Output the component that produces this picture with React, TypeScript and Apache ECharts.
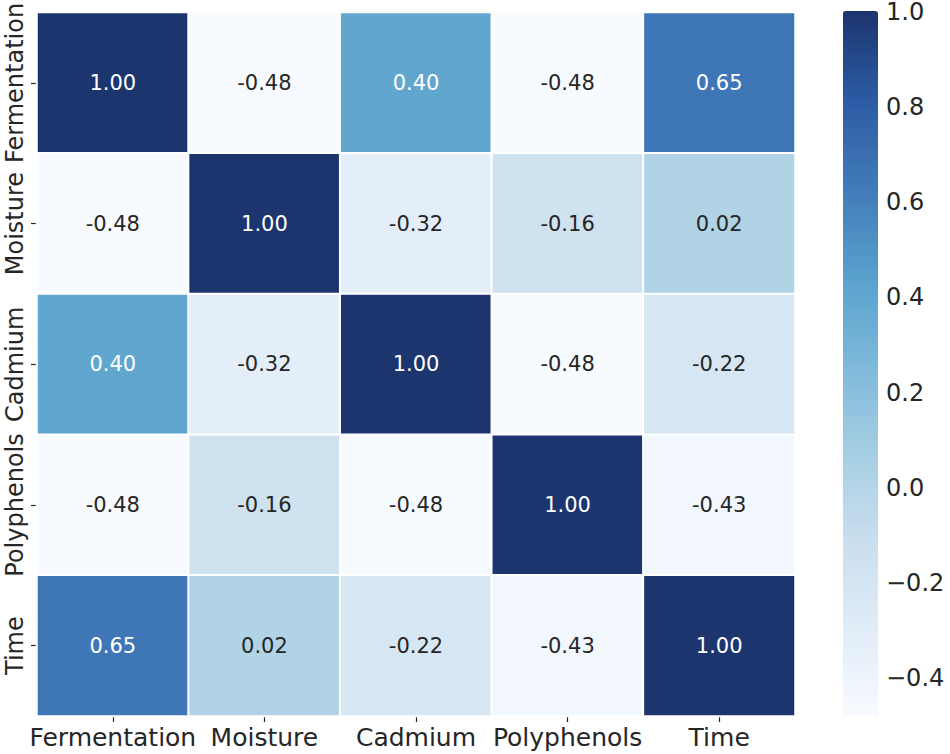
import React, { useEffect, useRef } from "react";
import * as echarts from "echarts";

const categories = ["Fermentation", "Moisture", "Cadmium", "Polyphenols", "Time"];
const rowFermentation = [1.0, -0.48, 0.4, -0.48, 0.65];
const rowMoisture = [-0.48, 1.0, -0.32, -0.16, 0.02];
const rowCadmium = [0.4, -0.32, 1.0, -0.48, -0.22];
const rowPolyphenols = [-0.48, -0.16, -0.48, 1.0, -0.43];
const rowTime = [0.65, 0.02, -0.22, -0.43, 1.0];
const rows = [rowFermentation, rowMoisture, rowCadmium, rowPolyphenols, rowTime];
const colorbarTicks = [-0.4, -0.2, 0.0, 0.2, 0.4, 0.6, 0.8, 1.0];
const vMin = -0.48;
const vMax = 1.0;

const palette = [
  "#f7fbff",
  "#e0ecf7",
  "#c9deee",
  "#a5cee3",
  "#7db8da",
  "#58a0cc",
  "#417ab8",
  "#2c5ba3",
  "#1c356e",
];

const FONT = "DejaVu Sans";

export default function App() {
  const ref = useRef<HTMLDivElement>(null);
  useEffect(() => {
    document.body.style.margin = "0";
    const chart = echarts.init(ref.current!, null, { renderer: "svg" });
    const data: any[] = [];
    rows.forEach((row, yi) => {
      row.forEach((v, xi) => {
        data.push({
          value: [xi, yi, v],
          label: { color: v >= 0.3 ? "#ffffff" : "#262626" },
        });
      });
    });
    const fmt = (v: number) => {
      const s = v.toFixed(1);
      return v < 0 ? "\u2212" + s.slice(1) : s;
    };
    chart.setOption({
      animation: false,
      backgroundColor: "#ffffff",
      textStyle: { fontFamily: FONT },
      grid: [
        { left: 37, top: 11, width: 758, height: 705 },
        { left: 843, top: 11, width: 35, height: 705 },
      ],
      xAxis: [
        {
          type: "category",
          data: categories,
          gridIndex: 0,
          position: "bottom",
          axisLine: { show: false },
          axisTick: { show: true, alignWithLabel: true, length: 6, lineStyle: { color: "#262626", width: 1.2 } },
          axisLabel: { fontSize: 25, color: "#262626", fontFamily: FONT, margin: 9, interval: 0, hideOverlap: false },
          splitLine: { show: false },
        },
        {
          type: "value",
          gridIndex: 1,
          show: false,
        },
      ],
      yAxis: [
        {
          type: "category",
          data: categories,
          gridIndex: 0,
          inverse: true,
          axisLine: { show: false },
          axisTick: { show: true, alignWithLabel: true, length: 6, lineStyle: { color: "#262626", width: 1.2 } },
          axisLabel: { fontSize: 24, color: "#262626", fontFamily: FONT, rotate: 90, margin: 10, interval: 0, hideOverlap: false },
          splitLine: { show: false },
        },
        {
          type: "value",
          gridIndex: 1,
          position: "right",
          min: vMin,
          max: vMax,
          axisLine: { show: false },
          splitLine: { show: false },
          axisTick: {
            show: true,
            length: 6,
            customValues: colorbarTicks,
            lineStyle: { color: "#262626", width: 1.2 },
          },
          axisLabel: {
            fontSize: 24,
            lineHeight: 17,
            color: "#262626",
            fontFamily: FONT,
            margin: 8,
            customValues: colorbarTicks,
            formatter: (v: number) => fmt(v),
          },
        },
      ],
      visualMap: {
        type: "continuous",
        min: vMin,
        max: vMax,
        seriesIndex: 0,
        dimension: 2,
        calculable: false,
        hoverLink: false,
        left: 843,
        top: 11,
        padding: 0,
        itemWidth: 35,
        itemHeight: 705,
        showLabel: false,
        inRange: { color: palette },
      },
      series: [
        {
          type: "heatmap",
          xAxisIndex: 0,
          yAxisIndex: 0,
          data,
          itemStyle: { borderColor: "#ffffff", borderWidth: 2 },
          label: {
            show: true,
            fontSize: 21,
            fontFamily: FONT,
            formatter: (p: any) => p.value[2].toFixed(2),
          },
          emphasis: { disabled: true },
        },
      ],
    });
    return () => chart.dispose();
  }, []);
  return <div ref={ref} style={{ width: 950, height: 754 }} />;
}
